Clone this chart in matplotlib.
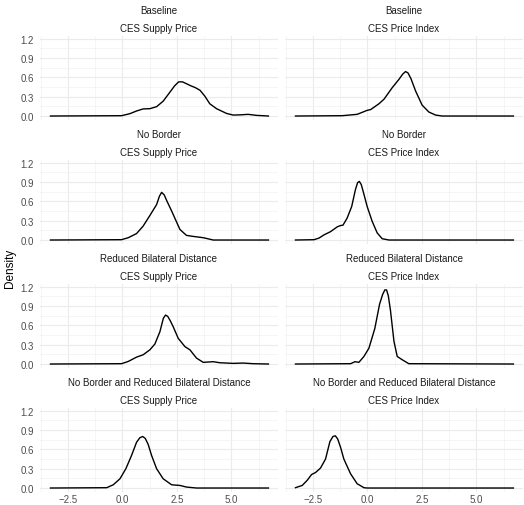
import matplotlib
matplotlib.use('Agg')
import matplotlib.pyplot as plt
from matplotlib.ticker import FixedLocator

plt.rcParams['font.family'] = ['Liberation Sans', 'DejaVu Sans']

scenarios = ['Baseline', 'No Border', 'Reduced Bilateral Distance',
             'No Border and Reduced Bilateral Distance']
measures = ['CES Supply Price', 'CES Price Index']

# density curves (x, density)
base_supply_x = [-3.3, -0.04, 0.34, 0.65, 0.95, 1.26, 1.57, 1.87, 2.18, 2.40, 2.58, 2.76,
                 2.95, 3.1, 3.35, 3.56, 3.78, 4.01, 4.32, 4.78, 5.08, 5.4, 5.77, 6.16, 6.7]
base_supply_y = [0.0, 0.005, 0.036, 0.078, 0.11, 0.114, 0.145, 0.23, 0.37, 0.47, 0.53, 0.53,
                 0.50, 0.475, 0.44, 0.40, 0.31, 0.19, 0.114, 0.04, 0.015, 0.018, 0.026, 0.01, 0.0]

base_index_x = [-3.3, -1.16, -0.47, -0.01, 0.15, 0.53, 0.76, 1.14, 1.45, 1.62, 1.75, 1.86,
                2.0, 2.21, 2.51, 2.82, 3.13, 3.43, 6.7]
base_index_y = [0.0, 0.005, 0.026, 0.088, 0.10, 0.19, 0.26, 0.44, 0.57, 0.65, 0.69, 0.67,
                0.58, 0.39, 0.17, 0.062, 0.015, 0.0, 0.0]

nb_supply_x = [-3.3, -0.04, 0.27, 0.65, 0.95, 1.26, 1.57, 1.70, 1.80, 1.92, 2.05, 2.26, 2.64,
               2.94, 3.25, 3.71, 4.17, 6.7]
nb_supply_y = [0.0, 0.005, 0.036, 0.10, 0.215, 0.38, 0.55, 0.68, 0.74, 0.70, 0.60, 0.45, 0.164,
               0.072, 0.056, 0.036, 0.0, 0.0]

nb_index_x = [-3.3, -2.45, -2.22, -1.99, -1.69, -1.38, -1.23, -1.12, -0.93, -0.72,
              -0.55, -0.45, -0.37, -0.28, -0.15, -0.01, 0.22, 0.45, 0.68, 0.99, 6.7]
nb_index_y = [0.0, 0.005, 0.03, 0.08, 0.13, 0.205, 0.225, 0.23, 0.34, 0.52,
              0.78, 0.89, 0.91, 0.86, 0.70, 0.52, 0.29, 0.11, 0.02, 0.0, 0.0]

rbd_supply_x = [-3.3, -0.04, 0.27, 0.65, 0.95, 1.26, 1.49, 1.72, 1.88, 1.98, 2.08, 2.20, 2.33,
                2.56, 2.87, 3.10, 3.40, 3.71, 4.17, 4.47, 5.08, 5.54, 6.0, 6.7]
rbd_supply_y = [0.0, 0.005, 0.04, 0.107, 0.143, 0.22, 0.31, 0.50, 0.71, 0.76, 0.74, 0.67, 0.58,
                0.40, 0.27, 0.22, 0.092, 0.026, 0.036, 0.02, 0.01, 0.015, 0.005, 0.0]

rbd_index_x = [-3.3, -0.77, -0.57, -0.39, -0.16, 0.07, 0.34, 0.56, 0.70, 0.80, 0.88, 0.96, 1.06,
               1.22, 1.37, 1.60, 1.90, 6.7]
rbd_index_y = [0.0, 0.005, 0.036, 0.026, 0.117, 0.245, 0.55, 0.93, 1.08, 1.15, 1.15, 1.06, 0.83,
               0.35, 0.117, 0.066, 0.005, 0.0]

both_supply_x = [-3.3, -0.72, -0.42, -0.11, 0.16, 0.42, 0.65, 0.80, 0.93, 1.05, 1.18, 1.34, 1.57,
                 1.87, 2.26, 2.64, 2.94, 3.40, 6.7]
both_supply_y = [0.0, 0.005, 0.05, 0.144, 0.30, 0.505, 0.71, 0.78, 0.80, 0.77, 0.68, 0.505, 0.30,
                 0.144, 0.05, 0.04, 0.015, 0.0, 0.0]

both_index_x = [-3.3, -2.99, -2.76, -2.56, -2.38, -2.15, -1.92, -1.72, -1.58, -1.47, -1.36,
                -1.22, -1.08, -0.77, -0.47, -0.16, -0.01, 6.7]
both_index_y = [0.005, 0.04, 0.12, 0.21, 0.24, 0.31, 0.45, 0.72, 0.80, 0.81, 0.76,
                0.62, 0.45, 0.22, 0.067, 0.005, 0.0, 0.0]

curves = [[(base_supply_x, base_supply_y), (base_index_x, base_index_y)],
          [(nb_supply_x, nb_supply_y), (nb_index_x, nb_index_y)],
          [(rbd_supply_x, rbd_supply_y), (rbd_index_x, rbd_index_y)],
          [(both_supply_x, both_supply_y), (both_index_x, both_index_y)]]

x_major = [-2.5, 0.0, 2.5, 5.0]
x_minor = [-3.75, -1.25, 1.25, 3.75, 6.25]
y_major = [0.0, 0.3, 0.6, 0.9, 1.2]
y_minor = [0.15, 0.45, 0.75, 1.05]

W, H = 524, 506
fig = plt.figure(figsize=(W / 100, H / 100), dpi=100)

col_left = [40, 285]
pw = 238
row_top = [37, 161, 285, 409]
ph = 83.5

for i, scen in enumerate(scenarios):
    for j, meas in enumerate(measures):
        ax = fig.add_axes([col_left[j] / W, 1 - (row_top[i] + ph) / H, pw / W, ph / H])
        x, y = curves[i][j]
        ax.plot(x, y, color='black', lw=1.0, solid_joinstyle='round')
        ax.set_xlim(-3.78, 7.14)
        ax.set_ylim(-0.054, 1.242)
        ax.xaxis.set_major_locator(FixedLocator(x_major))
        ax.xaxis.set_minor_locator(FixedLocator(x_minor))
        ax.yaxis.set_major_locator(FixedLocator(y_major))
        ax.yaxis.set_minor_locator(FixedLocator(y_minor))
        ax.grid(which='major', color='#EBEBEB', lw=0.8)
        ax.grid(which='minor', color='#F2F2F2', lw=0.5)
        ax.set_axisbelow(True)
        for s in ax.spines.values():
            s.set_visible(False)
        ax.tick_params(which='both', length=0, labelsize=7, labelcolor='#4D4D4D')
        ax.tick_params(axis='y', pad=4.5)
        ax.tick_params(axis='x', pad=2)
        ax.set_yticklabels(['0.0', '0.3', '0.6', '0.9', '1.2'] if j == 0 else [])
        ax.set_xticklabels(['\u22122.5', '0.0', '2.5', '5.0'] if i == 3 else [])
        ax.text(0.5, 1 + 26 / ph, scen, transform=ax.transAxes, ha='center', va='center',
                fontsize=7, color='#1A1A1A')
        ax.text(0.5, 1 + 8 / ph, meas, transform=ax.transAxes, ha='center', va='center',
                fontsize=7, color='#1A1A1A')

fig.text(10 / W, 1 - 268 / H, 'Density', rotation=90, ha='center', va='center', fontsize=8.5)

fig.savefig('out.png', dpi=100)
